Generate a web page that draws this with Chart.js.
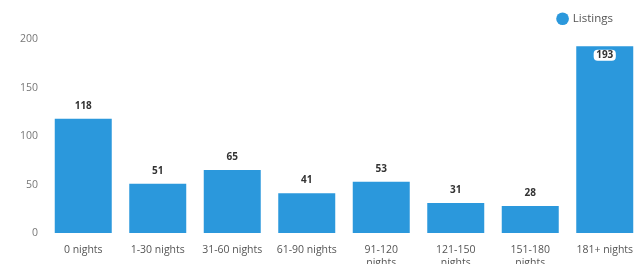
<!DOCTYPE html>
<html>
<head>
<meta charset="utf-8">
<script src="https://cdn.jsdelivr.net/npm/chart.js@4/dist/chart.umd.min.js"></script>
<style>
  html, body { margin: 0; padding: 0; background: #fff; overflow: hidden; }
  #wrap { width: 642px; height: 264px; }
</style>
</head>
<body>
<div id="wrap"><canvas id="c"></canvas></div>
<script>
// categories (multi-line ones are arrays)
const categories = ['0 nights', '1-30 nights', '31-60 nights', '61-90 nights',
  ['91-120', 'nights'], ['121-150', 'nights'], ['151-180', 'nights'], '181+ nights'];
const listings = [118, 51, 65, 41, 53, 31, 28, 193];
const yTicks = [0, 50, 100, 150, 200];

const barColor = '#2b98dc';
const font = '"Open Sans", "Noto Sans", sans-serif';

// value labels above the bars, boxed inside the bar when there is no room
const valueLabels = {
  id: 'valueLabels',
  afterDatasetsDraw(chart) {
    const ctx = chart.ctx;
    const meta = chart.getDatasetMeta(0);
    ctx.save();
    ctx.font = 'bold 10px ' + font;
    ctx.textAlign = 'center';
    ctx.textBaseline = 'middle';
    meta.data.forEach((bar, i) => {
      const txt = String(listings[i]);
      let y = bar.y - 13;
      if (y < chart.chartArea.top + 4) {
        y = bar.y + 9;
        const w = ctx.measureText(txt).width + 5;
        ctx.fillStyle = '#fff';
        ctx.beginPath();
        ctx.roundRect(bar.x - w / 2, y - 5.5, w, 11, 4);
        ctx.fill();
      }
      ctx.fillStyle = '#333';
      ctx.fillText(txt, bar.x, y);
    });
    ctx.restore();
  }
};

// give the legend some extra room below and pull it in from the right edge
const legendSpace = {
  id: 'legendSpace',
  beforeInit(chart) {
    const fit = chart.legend.fit;
    chart.legend.fit = function () {
      fit.call(this);
      this.height += 5;
    };
  },
  afterLayout(chart) {
    chart.legend.right -= 17;
  }
};

new Chart(document.getElementById('c'), {
  type: 'bar',
  data: {
    labels: categories,
    datasets: [{
      label: 'Listings',
      data: listings,
      backgroundColor: barColor,
      barPercentage: 0.85,
      categoryPercentage: 0.9
    }]
  },
  options: {
    responsive: true,
    maintainAspectRatio: false,
    animation: false,
    layout: { padding: { top: 1, right: 0, left: 0, bottom: 0 } },
    plugins: {
      legend: {
        position: 'top',
        align: 'end',
        labels: {
          usePointStyle: true,
          pointStyle: 'circle',
          boxWidth: 9,
          boxHeight: 9,
          color: '#555',
          font: { family: font, size: 11.5 },
          padding: 12
        }
      },
      tooltip: { enabled: false }
    },
    scales: {
      x: {
        grid: { display: false },
        border: { display: false },
        ticks: {
          color: '#555',
          font: { family: font, size: 10.5 },
          maxRotation: 0,
          autoSkip: false,
          padding: 3
        },
        afterFit(s) { s.height = 31; }
      },
      y: {
        min: 0,
        max: 200,
        grid: { display: false, drawTicks: false },
        border: { display: false },
        afterBuildTicks(s) { s.ticks = yTicks.map(v => ({ value: v })); },
        ticks: {
          color: '#777',
          font: { family: font, size: 10.5 },
          padding: 8
        },
        afterFit(s) { s.width = 46; }
      }
    }
  },
  plugins: [valueLabels, legendSpace]
});
</script>
</body>
</html>
